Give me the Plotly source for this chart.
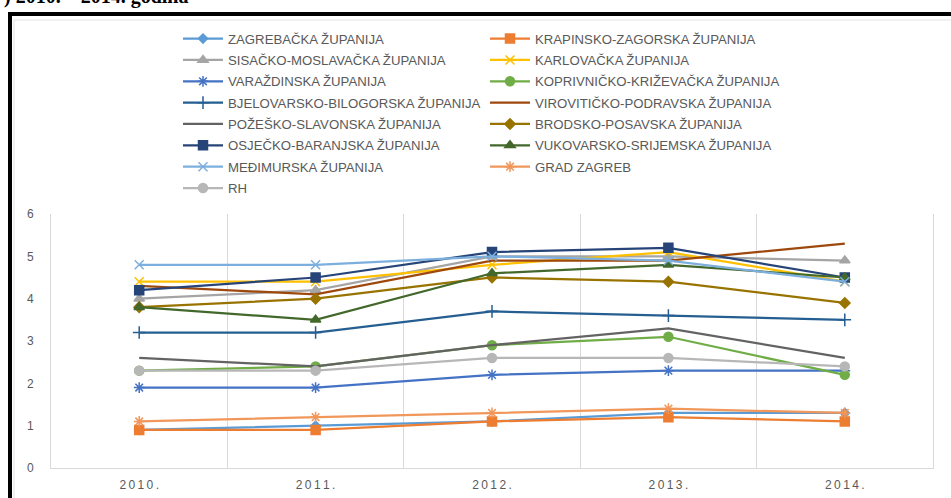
import plotly.graph_objects as go

years = ["2010.", "2011.", "2012.", "2013.", "2014."]

names = [
    "ZAGREBAČKA ŽUPANIJA",
    "KRAPINSKO-ZAGORSKA ŽUPANIJA",
    "SISAČKO-MOSLAVAČKA ŽUPANIJA",
    "KARLOVAČKA ŽUPANIJA",
    "VARAŽDINSKA ŽUPANIJA",
    "KOPRIVNIČKO-KRIŽEVAČKA ŽUPANIJA",
    "BJELOVARSKO-BILOGORSKA ŽUPANIJA",
    "VIROVITIČKO-PODRAVSKA ŽUPANIJA",
    "POŽEŠKO-SLAVONSKA ŽUPANIJA",
    "BRODSKO-POSAVSKA ŽUPANIJA",
    "OSJEČKO-BARANJSKA ŽUPANIJA",
    "VUKOVARSKO-SRIJEMSKA ŽUPANIJA",
    "MEĐIMURSKA ŽUPANIJA",
    "GRAD ZAGREB",
    "RH",
]

zagrebacka = [0.9, 1.0, 1.1, 1.3, 1.3]
krapinsko = [0.9, 0.9, 1.1, 1.2, 1.1]
sisacko = [4.0, 4.2, 5.0, 5.0, 4.9]
karlovacka = [4.4, 4.4, 4.8, 5.1, 4.4]
varazdinska = [1.9, 1.9, 2.2, 2.3, 2.3]
koprivnicko = [2.3, 2.4, 2.9, 3.1, 2.2]
bjelovarsko = [3.2, 3.2, 3.7, 3.6, 3.5]
viroviticko = [4.3, 4.1, 4.9, 4.9, 5.3]
pozesko = [2.6, 2.4, 2.9, 3.3, 2.6]
brodsko = [3.8, 4.0, 4.5, 4.4, 3.9]
osjecko = [4.2, 4.5, 5.1, 5.2, 4.5]
vukovarsko = [3.8, 3.5, 4.6, 4.8, 4.5]
medimurska = [4.8, 4.8, 5.0, 4.9, 4.4]
grad_zagreb = [1.1, 1.2, 1.3, 1.4, 1.3]
rh = [2.3, 2.3, 2.6, 2.6, 2.4]

values = [zagrebacka, krapinsko, sisacko, karlovacka, varazdinska, koprivnicko,
          bjelovarsko, viroviticko, pozesko, brodsko, osjecko, vukovarsko,
          medimurska, grad_zagreb, rh]

colors = ["#5B9BD5", "#ED7D31", "#A5A5A5", "#FFC000", "#4472C4", "#70AD47",
          "#255E91", "#9E480E", "#636363", "#997300", "#264478", "#43682B",
          "#7CAFDD", "#F1975A", "#B7B7B7"]

symbols = ["diamond", "square", "triangle-up", "x-thin-open", "asterisk-open",
           "circle", "cross-thin-open", None, None, "diamond", "square",
           "triangle-up", "x-thin-open", "asterisk-open", "circle"]

sizes = [7, 9, 9, 9, 9, 9, 9, 0, 0, 8, 9, 9, 9, 9, 9]

fig = go.Figure()
for i, (n, v, c, s, sz) in enumerate(zip(names, values, colors, symbols, sizes)):
    mode = "lines+markers" if s else "lines"
    marker = dict(color=c, size=sz, symbol=s, line=dict(color=c, width=1.5)) if s else None
    fig.add_trace(go.Scatter(
        x=years, y=v, name=n, mode=mode,
        line=dict(color=c, width=2.25),
        marker=marker,
        legend="legend" if i % 2 == 0 else "legend2",
        legendgroup=f"g{i}",
    ))

spaced = ["\u2009".join(list(y)) for y in years]

L, R, T, B = 51, 18, 214, 30
W, H = 951, 498
pw, ph = W - L - R, H - T - B


def px(xp):
    return (xp - L) / pw


def py(yp):
    return (H - B - yp) / ph


LEG_FONT = 13.2
legend_font = dict(family="Liberation Sans, Arial, sans-serif", size=LEG_FONT, color="#595959")
gap = 21.35 - (1.3 * LEG_FONT + 3)

fig.update_layout(
    width=W, height=H, autosize=False,
    margin=dict(l=L, r=R, t=T, b=B, autoexpand=False),
    paper_bgcolor="white", plot_bgcolor="white",
    font=dict(family="Liberation Sans, Arial, sans-serif", color="#595959"),
    showlegend=True,
    legend=dict(x=px(178), y=py(23.5), xanchor="left", yanchor="top",
                orientation="v", tracegroupgap=gap, font=legend_font,
                bgcolor="rgba(0,0,0,0)", itemwidth=40),
    legend2=dict(x=px(485), y=py(23.5), xanchor="left", yanchor="top",
                 orientation="v", tracegroupgap=gap, font=legend_font,
                 bgcolor="rgba(0,0,0,0)", itemwidth=40),
    xaxis=dict(type="category", range=[-0.5, 4.5], tickson="boundaries",
               tickvals=years, ticktext=spaced,
               showgrid=True, gridcolor="#D9D9D9", gridwidth=1,
               showline=True, linecolor="#D9D9D9", linewidth=1,
               ticks="", ticklabelstandoff=6, zeroline=False,
               tickfont=dict(size=12, color="#595959")),
    yaxis=dict(range=[0, 6], dtick=1, showgrid=False,
               showline=True, linecolor="#D9D9D9", linewidth=1, mirror=True,
               ticks="", ticklabelstandoff=14, zeroline=False,
               tickfont=dict(size=12, color="#595959")),
    shapes=[
        dict(type="rect", xref="paper", yref="paper",
             x0=px(10), x1=px(970), y0=py(520), y1=py(14),
             line=dict(color="black", width=4), fillcolor="rgba(0,0,0,0)"),
        dict(type="rect", xref="paper", yref="paper",
             x0=px(14), x1=px(965), y0=py(515), y1=py(20),
             line=dict(color="#E3E3E3", width=1), fillcolor="rgba(0,0,0,0)"),
    ],
    annotations=[
        dict(text="<b>) 2010. – 2014. godina</b>", xref="paper", yref="paper",
             x=px(2), y=py(10), xanchor="left", yanchor="bottom", showarrow=False,
             font=dict(family="Liberation Serif, Times New Roman, serif", size=20, color="black")),
    ],
)

fig.write_html(
    "out.html",
    config={"displayModeBar": False},
    post_script="document.body.style.margin='0';document.body.style.overflow='hidden';",
)
